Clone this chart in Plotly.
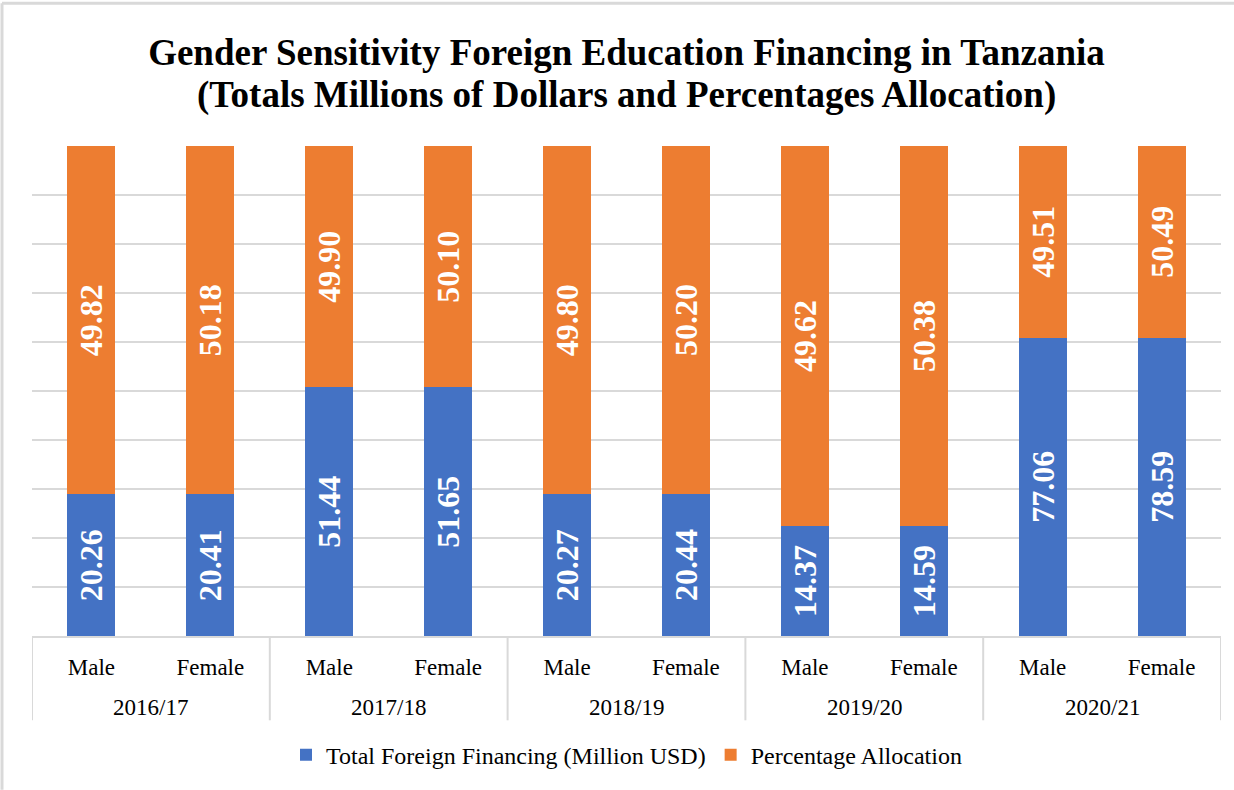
import plotly.graph_objects as go

years = ["2016/17", "2017/18", "2018/19", "2019/20", "2020/21"]
genders = ["Male", "Female"]
financing = [20.26, 20.41, 51.44, 51.65, 20.27, 20.44, 14.37, 14.59, 77.06, 78.59]
allocation = [49.82, 50.18, 49.90, 50.10, 49.80, 50.20, 49.62, 50.38, 49.51, 50.49]
title_lines = ["Gender Sensitivity Foreign Education Financing in Tanzania",
               "(Totals Millions of Dollars and Percentages Allocation)"]

# one category per (year, gender) pair
cats = [f"{y} {g}" for y in years for g in genders]
cat_text = [g for _ in years for g in genders]

BLUE = "#4472C4"
ORANGE = "#ED7D31"
GRID = "#D9D9D9"
FONT = "Liberation Serif, Times New Roman, serif"

W, H = 1234, 790
ML, MR, MT, MB = 32, 13, 146, 150
pw = W - ML - MR
ph = H - MT - MB


def py(px_from_top):
    """paper y for a pixel row of the page"""
    return (H - MB - px_from_top) / ph


def px(px_from_left):
    """paper x for a pixel column of the page"""
    return (px_from_left - ML) / pw


label_font = dict(family=FONT, size=32, color="white")

fig = go.Figure()
fig.add_trace(go.Bar(
    x=cats, y=financing, name="Total Foreign Financing (Million USD)",
    marker=dict(color=BLUE, line=dict(width=0)),
    text=[f"<b>{v:.2f}</b>" for v in financing], texttemplate="%{text}",
    textposition="inside", insidetextanchor="middle", textangle=-90,
    textfont=label_font, constraintext="none",
))
fig.add_trace(go.Bar(
    x=cats, y=allocation, name="Percentage Allocation",
    marker=dict(color=ORANGE, line=dict(width=0)),
    text=[f"<b>{v:.2f}</b>" for v in allocation], texttemplate="%{text}",
    textposition="inside", insidetextanchor="middle", textangle=-90,
    textfont=label_font, constraintext="none",
))

annotations = []
shapes = []

# second title line
annotations.append(dict(
    x=0.5, xref="paper", y=py(95), yref="paper",
    text=f"<b>{title_lines[1]}</b>", showarrow=False,
    xanchor="center", yanchor="middle",
    font=dict(family=FONT, size=37, color="black"),
))

# year group labels and group dividers below the axis
for i, yr in enumerate(years):
    annotations.append(dict(
        x=2 * i + 0.5, xref="x", y=py(712), yref="paper",
        text=yr, showarrow=False, xanchor="center", yanchor="middle",
        font=dict(family=FONT, size=23, color="black"),
    ))
for k in range(len(years) + 1):
    shapes.append(dict(
        type="line", xref="x", yref="paper",
        x0=2 * k - 0.5, x1=2 * k - 0.5, y0=0, y1=py(725),
        line=dict(color=GRID, width=2),
    ))

# outer chart frame (top and left edges are visible)
shapes.append(dict(type="line", xref="paper", yref="paper",
                   x0=px(2), x1=px(W + 5), y0=py(2), y1=py(2),
                   line=dict(color=GRID, width=3)))
shapes.append(dict(type="line", xref="paper", yref="paper",
                   x0=px(2), x1=px(2), y0=py(2), y1=py(H + 5),
                   line=dict(color=GRID, width=3)))

fig.update_layout(
    width=W, height=H,
    margin=dict(l=ML, r=MR, t=MT, b=MB),
    paper_bgcolor="white", plot_bgcolor="white",
    barmode="stack", barnorm="percent", bargap=0.596,
    title=dict(
        text=f"<b>{title_lines[0]}</b>",
        xref="paper", x=0.5, xanchor="center", y=1 - 52 / H, yanchor="middle",
        font=dict(family=FONT, size=37, color="black"),
    ),
    font=dict(family=FONT, color="#000000"),
    xaxis=dict(
        type="category", tickmode="array", tickvals=cats, ticktext=cat_text,
        tickfont=dict(family=FONT, size=23, color="black"),
        showline=True, linecolor=GRID, linewidth=2,
        ticks="", ticklabelstandoff=9, range=[-0.5, len(cats) - 0.5],
    ),
    yaxis=dict(
        range=[0, 100], dtick=10, showticklabels=False,
        showgrid=True, gridcolor=GRID, gridwidth=2,
        zeroline=False, showline=False,
    ),
    legend=dict(
        orientation="h", x=0.5, xanchor="center",
        y=py(760), yanchor="middle",
        font=dict(family=FONT, size=24, color="black"),
        traceorder="normal",
    ),
    uniformtext=dict(mode="show", minsize=32),
    annotations=annotations,
    shapes=shapes,
)

fig.write_html("out.html")
